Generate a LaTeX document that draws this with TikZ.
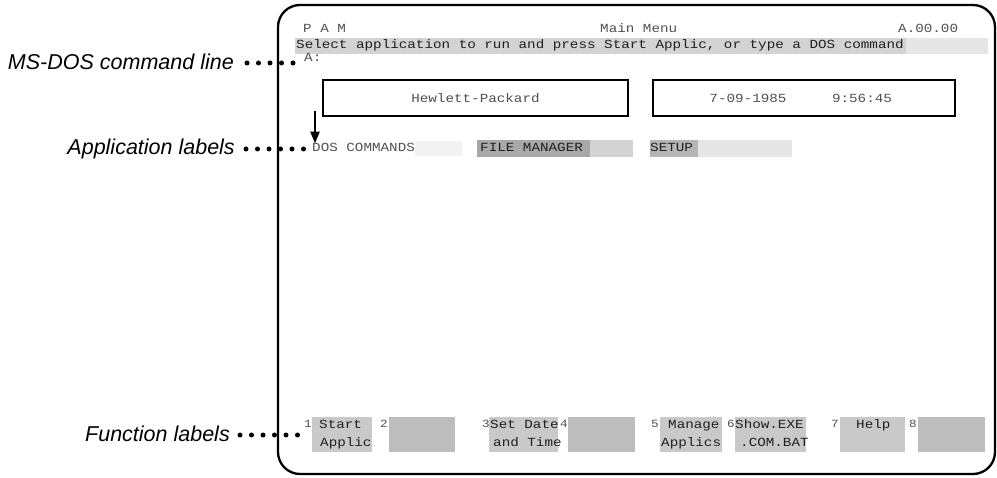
\documentclass[tikz,border=0pt]{standalone}
\usepackage{fontspec}
\usetikzlibrary{arrows.meta}
\newfontfamily\labelfont{Liberation Sans}
\newfontfamily\scrfont[FakeStretch=1.15]{Liberation Mono}
\definecolor{scrtext}{HTML}{505050}
\definecolor{hitext}{HTML}{202020}
\definecolor{bandlight}{HTML}{D3D3D3}
\definecolor{bandpale}{HTML}{E6E6E6}
\definecolor{banddark}{HTML}{A8A8A8}
\definecolor{keyfill}{HTML}{C9C9C9}
\definecolor{keyempty}{HTML}{BDBDBD}
\tikzset{
  callout/.style={font=\labelfont\itshape\fontsize{21.5}{25}\selectfont, anchor=base east, inner sep=0pt},
  scr/.style={font=\scrfont\fontsize{12.4}{14}\selectfont, text=scrtext, anchor=base west, inner sep=0pt},
  hi/.style={scr, text=hitext},
  keynum/.style={font=\scrfont\fontsize{11}{13}\selectfont, text=scrtext, anchor=base west, inner sep=0pt},
  dotleader/.style={line width=5pt, line cap=round, dash pattern=on 0pt off 11.5pt},
  framebox/.style={draw=black, line width=1.4pt},
  screen/.style={draw=black, line width=2.3pt, rounded corners=22pt},
}
\begin{document}
\begin{tikzpicture}[x=1pt, y=-1pt]
\useasboundingbox (0,0) rectangle (997,478);

% monitor screen outline
\draw[screen] (278,5) rectangle (995,474);

% highlight bands
\fill[bandlight] (295,38) rectangle (906,54);
\fill[bandpale] (906,38) rectangle (988,54);
\fill[black!5] (415,141) rectangle (462,156);
\fill[banddark] (477,140) rectangle (590,157);
\fill[bandlight] (590,140) rectangle (633,157);
\fill[banddark!85] (650,140) rectangle (698,157);
\fill[bandpale] (698,140) rectangle (792,157);

% function key boxes
\fill[keyfill]  (312,417) rectangle (372,452);
\fill[keyempty] (389,417) rectangle (455,452);
\fill[keyfill]  (489,417) rectangle (558,452);
\fill[keyempty] (568,417) rectangle (635,452);
\fill[keyfill]  (660,417) rectangle (722,452);
\fill[keyfill]  (735,417) rectangle (806,452);
\fill[keyfill]  (840,417) rectangle (905,452);
\fill[keyempty] (918,417) rectangle (985,452);

% title line
\node[scr] (pam) at (303,33) {P A M};
\node[scr] (mainmenu) at (600,33) {Main Menu};
\node[scr] (version) at (898,33) {A.00.00};
\node[hi] (prompt) at (296,49) {Select application to run and press Start Applic, or type a DOS command};
\node[scr] (cmdline) at (304,62) {A:};

% header boxes
\draw[framebox] (323,80) rectangle (628,116);
\node[scr, anchor=center] (company) at (475.5,98) {Hewlett-Packard};
\draw[framebox] (653,80) rectangle (955,116);
\node[scr, anchor=center] (date) at (748,98) {7-09-1985};
\node[scr, anchor=center] (time) at (862,98) {9:56:45};

% application labels
\node[scr] (doscmd) at (312,152) {DOS COMMANDS};
\node[hi] (filemgr) at (480,152) {FILE MANAGER};
\node[hi] (setup) at (650,152) {SETUP};

% function keys
\node[keynum] (k1) at (304,428) {1};
\node[hi] (f1a) at (319,429) {Start};
\node[hi] (f1b) at (320,447) {Applic};
\node[keynum] (k2) at (380,428) {2};
\node[keynum] (k3) at (482,428) {3};
\node[hi] (f3a) at (490,429) {Set Date};
\node[hi] (f3b) at (493,447) {and Time};
\node[keynum] (k4) at (560,428) {4};
\node[keynum] (k5) at (651,428) {5};
\node[hi] (f5a) at (668,429) {Manage};
\node[hi] (f5b) at (661,447) {Applics};
\node[keynum] (k6) at (727,428) {6};
\node[hi] (f6a) at (735,429) {Show.EXE};
\node[hi] (f6b) at (740,447) {.COM.BAT};
\node[keynum] (k7) at (831,428) {7};
\node[hi] (f7a) at (856,429) {Help};
\node[keynum] (k8) at (909,428) {8};

% callouts
\node[callout] (lblcmd) at (234,70) {MS-DOS command line};
\node[callout] (lblapp) at (235,155) {Application labels};
\node[callout] (lblfn) at (230,442) {Function labels};

\coordinate (cmdend) at (294,63);
\coordinate (append) at (306,149);
\coordinate (fnend) at (298,435);
\draw[dotleader] (lblcmd.east |- cmdend) ++(13,0) -- (cmdend);
\draw[dotleader] (lblapp.east |- append) ++(11,0) -- (append);
\draw[dotleader] (lblfn.east |- fnend) ++(10,0) -- (fnend);

% pointer to the first application label
\coordinate (arrowtop) at (315,111);
\draw[line width=2.4pt, -{Triangle[length=12pt, width=9pt]}] (arrowtop) -- (arrowtop |- doscmd.north);
\end{tikzpicture}
\end{document}
